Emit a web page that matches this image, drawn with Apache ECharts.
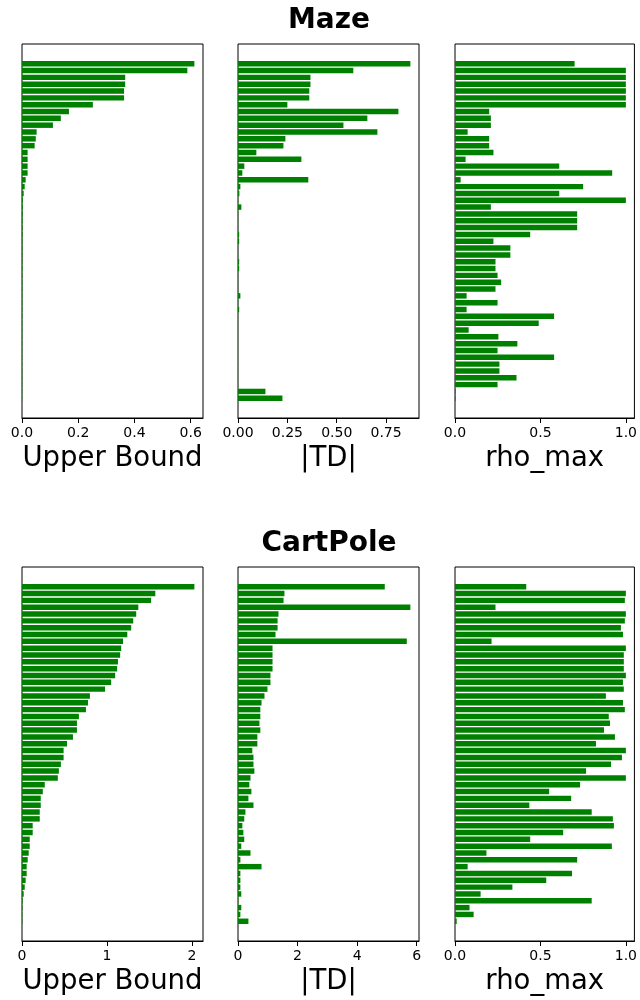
<!DOCTYPE html>
<html>
<head>
<meta charset="utf-8">
<script src="https://cdn.jsdelivr.net/npm/echarts@6/dist/echarts.min.js"></script>
<style>
html,body{margin:0;padding:0;background:#fff;}
#chart{width:640px;height:1000px;}
</style>
</head>
<body>
<div id="chart"></div>
<script>
// ---------- data (index 0 = top bar) ----------
const mazeUpper = [0.613,0.588,0.367,0.367,0.363,0.363,0.252,0.167,0.138,0.110,
  0.052,0.049,0.045,0.020,0.020,0.020,0.020,0.013,0.0095,0.006,
  0.003,0.003,0.003,0.0025,0.0025,0.0025,0.002,0.002,0.002,0.002,
  0.002,0.0018,0.0018,0.0018,0.0016,0.0016,0.0016,0.0015,0.0015,0.0015,
  0.0014,0.0014,0.0013,0.0013,0.0012,0.0012,0.0011,0.0011,0.001,0.001];
const mazeTD = [0.873,0.584,0.367,0.367,0.361,0.361,0.250,0.8125,0.655,0.534,
  0.706,0.240,0.230,0.093,0.321,0.032,0.022,0.356,0.012,0.007,
  0.001,0.017,0.001,0.001,0.001,0.006,0.006,0.001,0.001,0.006,
  0.006,0.001,0.001,0.001,0.012,0.001,0.006,0.0005,0.0005,0.0005,
  0.0005,0.0005,0.0005,0.0005,0.0005,0.0005,0.0005,0.0005,0.139,0.225];
const mazeRho = [0.70,1.0,1.0,1.0,1.0,1.0,1.0,0.20,0.21,0.21,
  0.074,0.20,0.20,0.225,0.062,0.61,0.92,0.033,0.75,0.61,
  1.0,0.21,0.715,0.715,0.715,0.44,0.225,0.324,0.324,0.237,
  0.237,0.249,0.27,0.237,0.068,0.249,0.068,0.58,0.49,0.08,
  0.254,0.365,0.249,0.58,0.26,0.26,0.36,0.249,0.004,0.004];
const cartUpper = [2.03,1.57,1.52,1.37,1.345,1.31,1.286,1.24,1.19,1.168,
  1.156,1.13,1.12,1.097,1.05,0.978,0.80,0.777,0.753,0.67,
  0.647,0.647,0.60,0.53,0.49,0.49,0.458,0.434,0.422,0.268,
  0.245,0.221,0.221,0.209,0.209,0.126,0.126,0.091,0.091,0.079,
  0.067,0.055,0.055,0.043,0.032,0.02,0.008,0.006,0.005,0.004];
const cartTD = [4.93,1.56,1.53,5.79,1.36,1.33,1.33,1.26,5.67,1.16,
  1.16,1.16,1.16,1.09,1.09,0.99,0.89,0.79,0.75,0.75,
  0.72,0.75,0.65,0.65,0.48,0.52,0.52,0.55,0.42,0.38,
  0.45,0.35,0.52,0.25,0.21,0.146,0.18,0.21,0.11,0.42,
  0.08,0.79,0.08,0.08,0.08,0.11,0.01,0.11,0.08,0.35];
const cartRho = [0.417,1.0,0.994,0.237,1.0,0.994,0.971,0.983,0.214,1.0,
  0.988,0.988,0.988,1.0,0.983,0.988,0.883,0.983,0.994,0.90,
  0.907,0.872,0.936,0.825,1.0,0.977,0.913,0.767,1.0,0.732,
  0.551,0.68,0.435,0.80,0.924,0.93,0.633,0.44,0.918,0.184,
  0.715,0.074,0.685,0.534,0.336,0.15,0.80,0.085,0.109,0.01];

const rowTitles = ['Maze', 'CartPole'];
const xNames = ['Upper Bound', '|TD|', 'rho_max'];

const ticksUpperMaze = [0, 0.2, 0.4, 0.6];
const labelsUpperMaze = ['0.0', '0.2', '0.4', '0.6'];
const ticksTDMaze = [0, 0.25, 0.5, 0.75];
const labelsTDMaze = ['0.00', '0.25', '0.50', '0.75'];
const ticksRho = [0, 0.5, 1.0];
const labelsRho = ['0.0', '0.5', '1.0'];
const ticksUpperCart = [0, 1, 2];
const labelsUpperCart = ['0', '1', '2'];
const ticksTDCart = [0, 2, 4, 6];
const labelsTDCart = ['0', '2', '4', '6'];

// ---------- layout ----------
const FONT = '"DejaVu Sans", "Liberation Sans", sans-serif';
const GREEN = '#008000';
const colLeft = [22, 238, 455];
const rowTop = [44, 567];
const gw = 181, gh = 374;

const panels = [
  {data: mazeUpper, ticks: ticksUpperMaze, labels: labelsUpperMaze, row: 0, col: 0},
  {data: mazeTD, ticks: ticksTDMaze, labels: labelsTDMaze, row: 0, col: 1},
  {data: mazeRho, ticks: ticksRho, labels: labelsRho, row: 0, col: 2},
  {data: cartUpper, ticks: ticksUpperCart, labels: labelsUpperCart, row: 1, col: 0},
  {data: cartTD, ticks: ticksTDCart, labels: labelsTDCart, row: 1, col: 1},
  {data: cartRho, ticks: ticksRho, labels: labelsRho, row: 1, col: 2}
];

const grids = [], xAxes = [], yAxes = [], series = [];
panels.forEach((p, k) => {
  const n = p.data.length;
  const pad = 0.05 * (n - 0.2);
  const xmax = Math.max(...p.data) * 1.05;
  grids.push({left: colLeft[p.col], top: rowTop[p.row], width: gw, height: gh,
    show: true, borderColor: '#000', borderWidth: 1, backgroundColor: 'transparent'});
  xAxes.push({
    gridIndex: k, type: 'value', min: 0, max: xmax,
    axisLine: {show: true, onZero: false, lineStyle: {color: '#000', width: 1}},
    axisTick: {show: true, length: 5, lineStyle: {color: '#000', width: 1}, customValues: p.ticks},
    axisLabel: {
      customValues: p.ticks, color: '#000', fontSize: 14, fontFamily: FONT, margin: 8,
      formatter: (v) => {
        let best = 0;
        p.ticks.forEach((t, i) => { if (Math.abs(t - v) < Math.abs(p.ticks[best] - v)) best = i; });
        return p.labels[best];
      }
    },
    splitLine: {show: false},
    name: xNames[p.col], nameLocation: 'middle', nameGap: 27,
    nameTextStyle: {fontSize: 27.5, color: '#000', fontFamily: FONT}
  });
  yAxes.push({gridIndex: k, type: 'value', inverse: true, min: -0.4 - pad, max: n - 0.6 + pad, show: false});
  series.push({
    type: 'custom', xAxisIndex: k, yAxisIndex: k, silent: true, clip: true,
    data: p.data.map((v, i) => [v, i]),
    encode: {x: 0, y: 1},
    renderItem: (params, api) => {
      const v = api.value(0), i = api.value(1);
      const a = api.coord([0, i - 0.4]);
      const b = api.coord([v, i + 0.4]);
      return {type: 'rect',
        shape: {x: a[0], y: a[1], width: b[0] - a[0], height: b[1] - a[1]},
        style: {fill: GREEN}};
    }
  });
});

const chart = echarts.init(document.getElementById('chart'), null, {renderer: 'canvas'});
chart.setOption({
  animation: false,
  backgroundColor: '#fff',
  textStyle: {fontFamily: FONT},
  grid: grids, xAxis: xAxes, yAxis: yAxes, series: series,
  graphic: rowTitles.map((t, r) => ({
    type: 'text', x: 329, y: r === 0 ? 21 : 544,
    style: {text: t, font: 'bold 28px ' + FONT, fill: '#000', textAlign: 'center', textVerticalAlign: 'middle'}
  }))
});
</script>
</body>
</html>
